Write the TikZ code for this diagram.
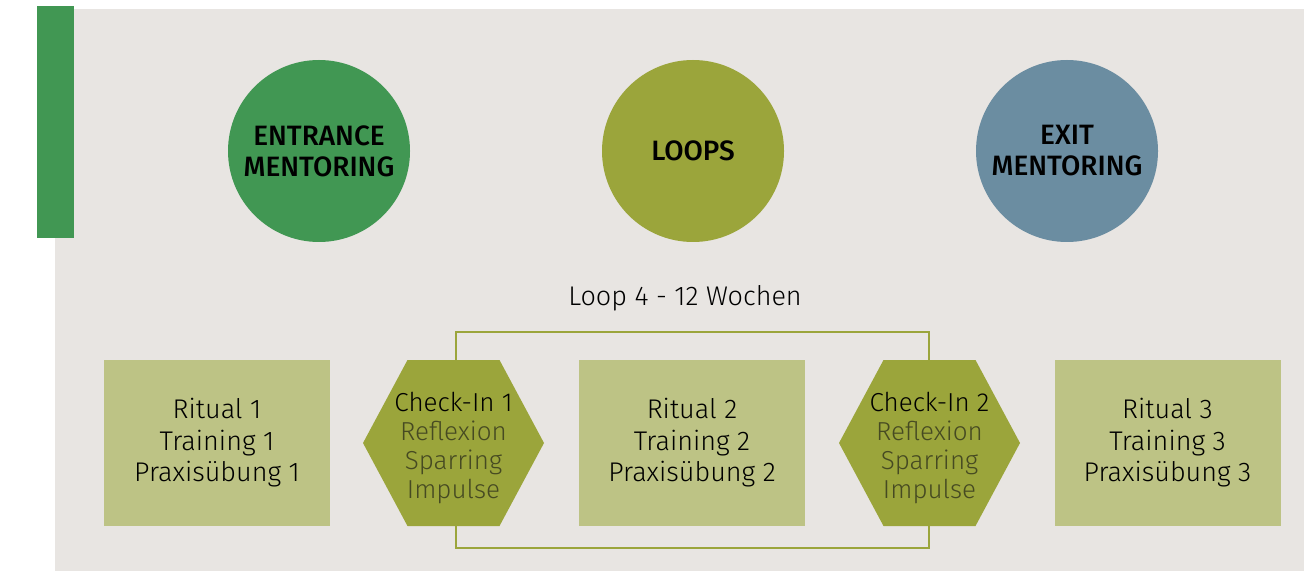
\documentclass[tikz,border=0pt]{standalone}
\usepackage{fontspec}
\setmainfont{Fira Sans}
\newfontfamily\lightfont{Fira Sans Light}
\newfontfamily\mediumfont{Fira Sans Medium}
\definecolor{paper}{HTML}{E8E5E2}
\definecolor{entrygreen}{HTML}{419753}
\definecolor{loopolive}{HTML}{9BA53B}
\definecolor{exitblue}{HTML}{6B8DA1}
\definecolor{boxolive}{HTML}{BDC385}
\definecolor{subtext}{HTML}{464A22}
\tikzset{
  phase/.style={circle, minimum size=91pt, inner sep=0pt, align=center,
    font=\mediumfont\fontsize{14}{15.5}\selectfont},
  block/.style={rectangle, fill=boxolive, minimum width=113pt, minimum height=83pt,
    inner sep=0pt, align=center, font=\lightfont\fontsize{13.5}{15.75}\selectfont},
  checkin/.style={inner sep=0pt, align=center, text=subtext,
    font=\lightfont\fontsize{13}{14.5}\selectfont},
  loopline/.style={draw=loopolive, line width=1pt}
}
\begin{document}
\begin{tikzpicture}[x=0.5pt,y=-0.5pt]
    \useasboundingbox (0,0) rectangle (1304,571);
    % background and side bar
    \fill[paper] (55,9) rectangle (1304,571);
    \fill[entrygreen] (37,6) rectangle (74,238);
    % phases
    \node[phase, fill=entrygreen] (entry) at (319,151) {ENTRANCE\\MENTORING};
    \node[phase, fill=loopolive] (loops) at (693,151) {LOOPS};
    \node[phase, fill=exitblue] (exit) at (1067,151) {EXIT\\MENTORING};
    \node[font=\lightfont\fontsize{13.5}{15}\selectfont] (looplabel) at (685,298) {Loop 4 - 12 Wochen};
    % loop frame
    \draw[loopline] (455.5,331.5) rectangle (929,548);
    % check-in hexagons
    \foreach \cx in {453.5, 929.5}
      \fill[loopolive] (\cx-90.5,443) -- (\cx-46,360) -- (\cx+46,360)
        -- (\cx+90.5,443) -- (\cx+46,526) -- (\cx-46,526) -- cycle;
    % blocks
    \node[block] (ritual1) at (217,443) {Ritual 1\\Training 1\\Praxisübung 1};
    \node[block] (ritual2) at (692,443) {Ritual 2\\Training 2\\Praxisübung 2};
    \node[block] (ritual3) at (1167.5,443) {Ritual 3\\Training 3\\Praxisübung 3};
    \node[checkin] (check1) at (453.5,448) {\textcolor{black}{Check-In 1}\\Reflexion\\Sparring\\Impulse};
    \node[checkin] (check2) at (929.5,448) {\textcolor{black}{Check-In 2}\\Reflexion\\Sparring\\Impulse};
\end{tikzpicture}
\end{document}
